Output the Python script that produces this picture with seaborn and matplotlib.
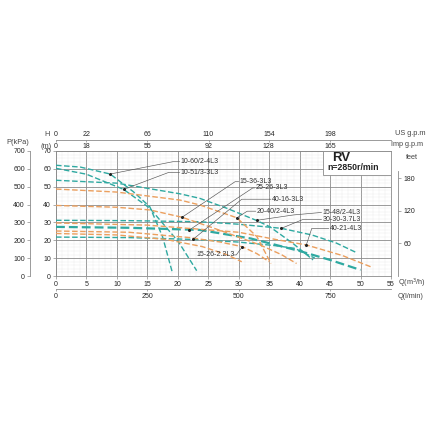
import numpy as np
import pandas as pd
import matplotlib
matplotlib.use("Agg")
import matplotlib.pyplot as plt
import seaborn as sns
from matplotlib.patches import Rectangle

# pump curves: Q in m3/h, H in m
TEAL = "#2fa9a1"
ORANGE = "#eb9f5e"

curve_names = ["T1", "T2", "T3", "T4", "T5", "T6", "O1", "O2", "O3", "O4", "O5"]
curve_colors = [TEAL] * 6 + [ORANGE] * 5
curve_q = [
    [0, 4, 8.9, 12.7, 15.4, 17.5, 19.1],
    [0, 5, 11.1, 15.4, 20.1, 23.1],
    [0, 10, 20.4, 23.6, 28, 33, 35.1, 39, 42.2],
    [0, 12, 23.6, 30, 37, 42, 46, 49.4],
    [0, 12, 23.6, 32, 40, 45, 50],
    [0, 12, 22.5, 30, 36, 39.2, 42.5],
    [0, 10, 20.4, 23.6, 29.7, 33, 35.3],
    [0, 10, 15.4, 20.7, 27, 33.5, 37, 39.5],
    [0, 15, 30, 36, 41.1, 47, 51.8],
    [0, 12, 22, 27, 30.6, 33, 35],
    [0, 10, 18, 24, 28, 30.5],
]
curve_h = [
    [62, 61, 57.1, 47.2, 38.8, 22, 2],
    [60.3, 57, 48.5, 38, 19.2, 3],
    [53.6, 52, 46, 43.5, 38, 31, 27.6, 18, 9],
    [31.2, 31, 30.4, 29, 26.7, 23, 18.5, 13],
    [27.5, 27, 25.8, 21, 14, 9, 3.4],
    [21.8, 21.5, 20.5, 19, 17, 15.5, 10],
    [48.7, 47, 42.5, 39.8, 32.6, 22, 7],
    [39.5, 38.5, 37, 32.9, 25.5, 17.4, 12, 7],
    [29.7, 28.5, 24.5, 20.5, 17.4, 11.5, 5],
    [25.2, 24.5, 21.5, 19, 16.4, 12.5, 8],
    [23.8, 23, 20.5, 16.5, 12, 8],
]
curve_width = [1.0, 1.0, 1.0, 1.0, 1.6, 1.0, 1.0, 1.0, 1.0, 1.0, 1.0]

# model labels: text, anchor point on curve, elbow, text position
label_text = ["10-60/2-4L3", "10-51/3-3L3", "15-36-3L3", "25-26-3L3", "40-16-3L3",
              "20-40/2-4L3", "15-48/2-4L3", "30-30-3.7L3", "40-21-4L3", "15-26-2.2L3"]
label_point = [(8.9, 57.1), (11.1, 48.5), (20.7, 32.9), (21.9, 25.8), (22.5, 20.5),
               (29.7, 32.6), (33, 31.2), (37, 26.7), (41.1, 17.4), (30.6, 16.4)]
label_elbow = [(19.2, 64), (18.5, 58), (29.4, 52.8), (32.3, 49.3), (30.5, 43),
               (31.4, 36.3), (39, 34.2), (40.5, 31.6), (42, 26.7), (29.6, 11.8)]
label_pos = [(20.5, 64), (20.5, 58), (30.2, 52.8), (32.8, 49.3), (35.5, 43),
             (33, 36.3), (43.8, 35.6), (43.8, 31.6), (45, 26.7), (29.4, 11.8)]

q_ticks = list(range(0, 60, 5))
h_ticks = list(range(0, 80, 10))
p_ticks = list(range(0, 800, 100))
feet_ticks = [60, 120, 180]
us_gpm_ticks = [0, 22, 66, 110, 154, 198]
imp_gpm_ticks = [0, 18, 55, 92, 128, 165]
lmin_ticks = [0, 250, 500, 750]

rows = []
for name, qs, hs in zip(curve_names, curve_q, curve_h):
    for i, (q, h) in enumerate(zip(qs, hs)):
        rows.append({"model": name, "Q": q, "H": h, "order": i})
df = pd.DataFrame(rows)

sns.set_theme(style="white")
plt.rcParams["font.family"] = ["Liberation Sans", "DejaVu Sans"]

fig = plt.figure(figsize=(4.28, 4.28), dpi=100)
ax = fig.add_axes([0.1308, 0.3551, 0.7827, 0.2921])

GRID = "#8a8a8a"
FS = 5.0

for name, col, lw in zip(curve_names, curve_colors, curve_width):
    sub = df[df["model"] == name]
    sns.lineplot(data=sub, x="Q", y="H", ax=ax, color=col, linewidth=lw,
                 sort=False, estimator=None, zorder=3)
for line in ax.lines:
    line.set_dashes([4, 1.8])

ax.set_xlim(0, 55)
ax.set_ylim(0, 70)
ax.set_xticks(q_ticks)
ax.set_yticks(h_ticks)
ax.set_xticks(np.arange(0, 56, 1), minor=True)
ax.set_yticks(np.arange(0, 71, 2), minor=True)
ax.grid(which="major", color=GRID, linewidth=0.6)
ax.grid(which="minor", color="#dadada", linewidth=0.35, linestyle=(0, (1, 1.2)))
ax.set_axisbelow(True)
ax.set_xlabel("")
ax.set_ylabel("")
for s in ax.spines.values():
    s.set_color(GRID)
    s.set_linewidth(0.6)
ax.tick_params(which="major", labelsize=FS, length=2, width=0.5, color=GRID, pad=1.5,
               left=True, bottom=True)
ax.tick_params(which="minor", length=0)

# pressure axis on the far left
pax = ax.secondary_yaxis(-0.078, functions=(lambda h: h * 10, lambda p: p / 10))
pax.set_yticks(p_ticks)
pax.tick_params(labelsize=FS, length=2, width=0.5, color=GRID, pad=1.5)
pax.spines["left"].set_color(GRID)
pax.spines["left"].set_linewidth(0.6)

# feet axis on the right
fax = ax.secondary_yaxis(1.021, functions=(lambda h: h * 3.2808, lambda f: f / 3.2808))
fax.set_yticks(feet_ticks)
fax.tick_params(labelsize=FS, length=2, width=0.5, color=GRID, pad=2)
fax.spines["right"].set_color(GRID)
fax.spines["right"].set_linewidth(0.6)
fax.spines["right"].set_bounds(0, 192)

# flow axes on top
usax = ax.secondary_xaxis(1.088, functions=(lambda q: q * 4.403, lambda g: g / 4.403))
usax.set_xticks(us_gpm_ticks)
usax.tick_params(labelsize=FS, length=0, pad=1.5)
usax.spines["top"].set_color(GRID)
usax.spines["top"].set_linewidth(0.6)

impax = ax.secondary_xaxis(1.088, functions=(lambda q: q * 3.666, lambda g: g / 3.666))
impax.set_alignment("bottom")
impax.set_xticks(imp_gpm_ticks)
impax.tick_params(labelsize=FS, length=1.5, width=0.5, color=GRID, pad=0.8)
impax.spines["bottom"].set_visible(False)

# l/min axis below
lax = ax.secondary_xaxis(-0.104, functions=(lambda q: q / 0.06, lambda l: l * 0.06))
lax.set_xticks(lmin_ticks)
lax.tick_params(labelsize=FS, length=1.5, width=0.5, color=GRID, pad=1.5)
lax.spines["bottom"].set_color(GRID)
lax.spines["bottom"].set_linewidth(0.6)

# labels with leader lines
for txt, p, e, t in zip(label_text, label_point, label_elbow, label_pos):
    ax.plot([p[0], e[0], t[0] - 0.2], [p[1], e[1], t[1]], color="#555555",
            linewidth=0.45, zorder=4)
    ax.plot(p[0], p[1], marker="o", markersize=1.2, color="#222222", zorder=5)
    ha = "right" if txt == "15-26-2.2L3" else "left"
    ax.text(t[0], t[1], txt, fontsize=FS, color="#333333", ha=ha, va="center", zorder=5)

# RV box
ax.add_patch(Rectangle((43.8, 56.8), 11.2, 13.2, facecolor="white", edgecolor=GRID,
                       linewidth=0.6, zorder=6))
ax.text(45.3, 66.2, "RV", fontsize=9.5, fontweight="bold", color="#222222", va="center", zorder=7)
ax.text(44.6, 61.0, "n=2850r/min", fontsize=6.3, fontweight="bold", color="#222222",
        va="center", zorder=7)

# axis titles
tc = "#444444"
fig.text(18 / 428, 1 - 142 / 428, "P(kPa)", fontsize=FS + 0.3, ha="center", va="center", color=tc)
fig.text(47 / 428, 1 - 134.5 / 428, "H", fontsize=FS + 0.3, ha="center", va="center", color=tc)
fig.text(46 / 428, 1 - 146 / 428, "(m)", fontsize=FS + 0.3, ha="center", va="center", color=tc)
fig.text(412 / 428, 1 - 157 / 428, "feet", fontsize=FS + 0.3, ha="center", va="center", color=tc)
fig.text(395 / 428, 1 - 133.5 / 428, "US g.p.m", fontsize=FS + 0.3, ha="left", va="center", color=tc)
fig.text(391 / 428, 1 - 145 / 428, "Imp g.p.m", fontsize=FS + 0.2, ha="left", va="center", color=tc)
fig.text(398 / 428, 1 - 283.5 / 428, "Q(m$^3$/h)", fontsize=FS + 0.2, ha="left", va="center", color=tc)
fig.text(398 / 428, 1 - 297 / 428, "Q(l/min)", fontsize=FS + 0.2, ha="left", va="center", color=tc)

fig.savefig("out.png", dpi=100, facecolor="white")
